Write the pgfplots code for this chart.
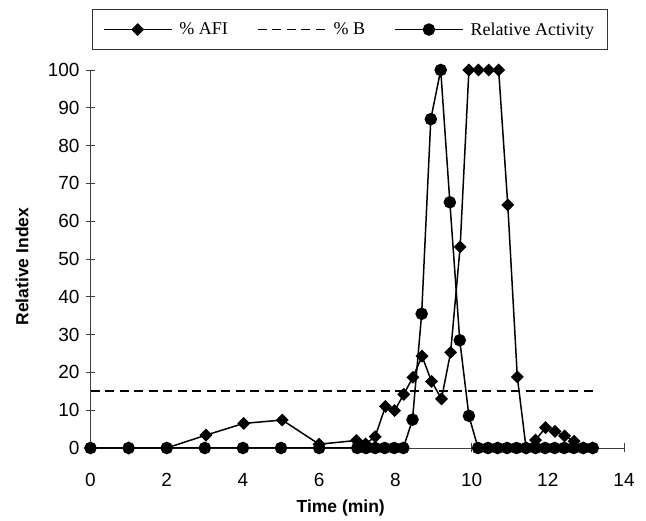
\documentclass[border=0pt]{standalone}
\usepackage{fontspec}
\setmainfont{Liberation Serif}
\newfontfamily\arial{Liberation Sans}
\usepackage{pgfplots}
\pgfplotsset{compat=1.18}
\begin{document}
\begin{tikzpicture}[x=1bp,y=1bp]
\useasboundingbox (0,0) rectangle (646,521);
\begin{axis}[
 scale only axis, width=533.5bp, height=378bp,
 at={(90.5bp,73bp)}, anchor=south west,
 xmin=0, xmax=14, ymin=0, ymax=100,
 axis lines=left,
 axis line style={-, draw=black!75, line width=0.8bp},
 clip=false,
 xtick={0,2,...,14}, ytick={0,10,...,100},
 tick align=center, major tick length=9bp,
 tick style={black!75, line width=0.8bp},
 /pgf/number format/assume math mode=true,
 ticklabel style={font=\arial\fontsize{19bp}{22bp}\selectfont},
 xticklabel style={yshift=-17bp},
 yticklabel style={xshift=-3bp},
 xlabel={Time (min)}, ylabel={Relative Index},
 label style={font=\arial\bfseries\fontsize{17.5bp}{20bp}\selectfont},
 xlabel style={at={(axis description cs:0.469,-0.159)}, anchor=center},
 ylabel style={at={(axis description cs:-0.128,0.48)}, anchor=center},
 legend columns=3,
 legend style={at={(0.4855,1.107)}, anchor=center, draw=black!80, line width=0.8bp,
   font=\fontsize{18bp}{21bp}\selectfont, inner xsep=11bp, inner ysep=11bp,
   /tikz/every odd column/.append style={column sep=5bp},
   /tikz/every even column/.append style={column sep=27bp}},
 legend image code/.code={\draw[mark repeat=2,mark phase=2,#1] plot coordinates {(0bp,0bp) (34bp,0bp) (68bp,0bp)};},
]
\addplot[black, line width=1.5bp, mark=square*, mark size=3.8bp, mark options={rotate=45, solid}] coordinates {
(0,0) (1,0) (2,0) (3.03,3.4) (4.02,6.5) (5.03,7.4) (6.0,1.0) (6.98,2.0) (7.22,1.1) (7.47,3.0)
(7.74,11.0) (7.98,9.9) (8.22,14.2) (8.46,18.7) (8.70,24.3) (8.95,17.6) (9.21,13.0) (9.45,25.3)
(9.70,53.2) (9.93,100) (10.18,100) (10.45,100) (10.71,100) (10.95,64.3) (11.2,18.8) (11.43,0)
(11.68,2.1) (11.94,5.4) (12.19,4.4) (12.44,3.2) (12.69,1.8) (12.93,0) (13.18,0)
};
\addlegendentry{\% AFI}
\addplot[black, line width=1.8bp, dash pattern=on 9bp off 5.5bp] coordinates {(0,15) (13.18,15)};
\addlegendentry{\% B}
\addplot[black, line width=1.5bp, mark=*, mark size=5.5bp] coordinates {
(0,0) (1,0) (2,0) (3,0) (4,0) (5,0) (6,0) (7.0,0) (7.23,0) (7.47,0) (7.72,0) (7.97,0) (8.21,0)
(8.45,7.5) (8.69,35.5) (8.93,87) (9.19,100) (9.43,65) (9.69,28.5) (9.93,8.5) (10.17,0) (10.43,0)
(10.68,0) (10.93,0) (11.18,0) (11.43,0) (11.68,0) (11.93,0) (12.18,0) (12.43,0) (12.68,0) (12.93,0) (13.18,0)
};
\addlegendentry{Relative Activity}
\end{axis}
\end{tikzpicture}
\end{document}
